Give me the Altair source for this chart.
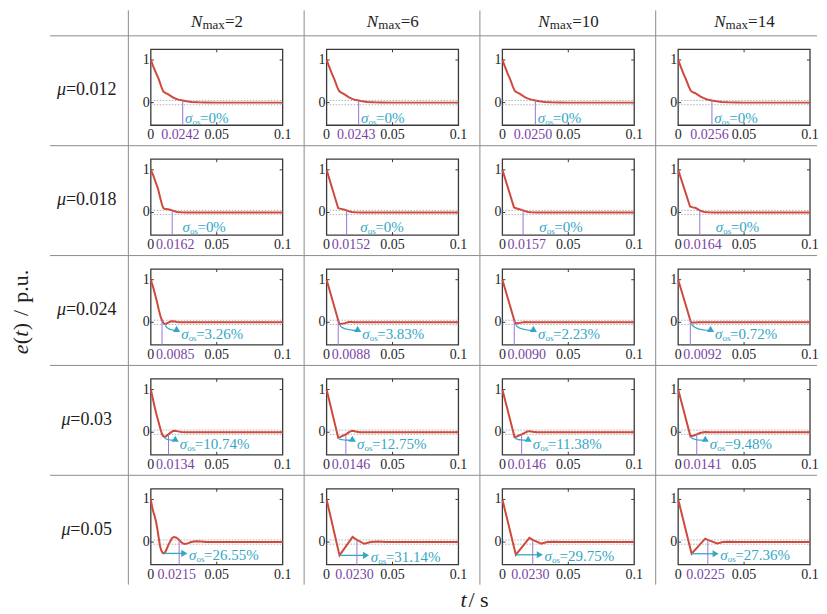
import altair as alt
import numpy as np
import pandas as pd

# ---------------- values ----------------
MU_LABELS = ["0.012", "0.018", "0.024", "0.03", "0.05"]
NMAX_LABELS = ["2", "6", "10", "14"]

TS_LABELS = [
    ["0.0242", "0.0243", "0.0250", "0.0256"],
    ["0.0162", "0.0152", "0.0157", "0.0164"],
    ["0.0085", "0.0088", "0.0090", "0.0092"],
    ["0.0134", "0.0146", "0.0146", "0.0141"],
    ["0.0215", "0.0230", "0.0230", "0.0225"],
]
OS_LABELS = [
    ["0%", "0%", "0%", "0%"],
    ["0%", "0%", "0%", "0%"],
    ["3.26%", "3.83%", "2.23%", "0.72%"],
    ["10.74%", "12.75%", "11.38%", "9.48%"],
    ["26.55%", "31.14%", "29.75%", "27.36%"],
]
# side of the 5 % band the error enters at the settling time
SETTLE_EDGE = [0.05, 0.05, 0.05, -0.05, 0.05]

CURVE_T = [
    [
        [0, 0.002, 0.004, 0.006, 0.008, 0.0095, 0.011, 0.013, 0.015, 0.017, 0.019, 0.021, 0.0242, 0.027, 0.031, 0.036, 0.042, 0.05, 0.1],
        [0, 0.002, 0.004, 0.006, 0.008, 0.0095, 0.011, 0.013, 0.015, 0.017, 0.019, 0.021, 0.0243, 0.027, 0.031, 0.036, 0.042, 0.05, 0.1],
        [0, 0.002, 0.004, 0.006, 0.008, 0.0095, 0.011, 0.013, 0.015, 0.017, 0.019, 0.022, 0.025, 0.028, 0.032, 0.037, 0.043, 0.05, 0.1],
        [0, 0.002, 0.004, 0.006, 0.008, 0.0095, 0.011, 0.013, 0.015, 0.017, 0.019, 0.022, 0.0256, 0.029, 0.033, 0.038, 0.044, 0.05, 0.1],
    ],
    [
        [0, 0.002, 0.004, 0.0055, 0.007, 0.0085, 0.0095, 0.011, 0.013, 0.0145, 0.0162, 0.018, 0.02, 0.023, 0.027, 0.1],
        [0, 0.0088, 0.011, 0.013, 0.0152, 0.017, 0.019, 0.022, 0.026, 0.1],
        [0, 0.0088, 0.011, 0.013, 0.0157, 0.0175, 0.0195, 0.022, 0.026, 0.1],
        [0, 0.009, 0.011, 0.013, 0.0145, 0.0164, 0.018, 0.02, 0.023, 0.027, 0.1],
    ],
    [
        [0, 0.0015, 0.003, 0.0045, 0.006, 0.0075, 0.0085, 0.0095, 0.0105, 0.012, 0.0135, 0.015, 0.0165, 0.018, 0.02, 0.023, 0.027, 0.1],
        [0, 0.0088, 0.0097, 0.011, 0.0125, 0.014, 0.0155, 0.017, 0.0185, 0.021, 0.024, 0.1],
        [0, 0.009, 0.0097, 0.011, 0.013, 0.015, 0.017, 0.019, 0.022, 0.1],
        [0, 0.0092, 0.0098, 0.011, 0.013, 0.016, 0.1],
    ],
    [
        [0, 0.0013, 0.0027, 0.004, 0.0054, 0.0066, 0.0078, 0.009, 0.0102, 0.0115, 0.0134, 0.015, 0.0168, 0.0185, 0.0205, 0.023, 0.027, 0.1],
        [0, 0.0088, 0.0105, 0.0125, 0.0146, 0.0165, 0.018, 0.0198, 0.022, 0.025, 0.1],
        [0, 0.0092, 0.011, 0.0128, 0.0146, 0.0165, 0.0185, 0.0205, 0.023, 0.026, 0.1],
        [0, 0.0093, 0.011, 0.0125, 0.0141, 0.016, 0.018, 0.0205, 0.024, 0.1],
    ],
    [
        [0, 0.001, 0.002, 0.003, 0.004, 0.005, 0.006, 0.007, 0.008, 0.009, 0.0098, 0.0108, 0.012, 0.0134, 0.0148, 0.016, 0.0175, 0.019, 0.0203, 0.0215, 0.023, 0.0245, 0.0258, 0.028, 0.030, 0.0325, 0.035, 0.038, 0.042, 0.05, 0.1],
        [0, 0.0098, 0.0197, 0.023, 0.0285, 0.0335, 0.0386, 0.045, 0.1],
        [0, 0.0102, 0.0205, 0.023, 0.0295, 0.034, 0.039, 0.045, 0.1],
        [0, 0.0102, 0.0205, 0.0225, 0.0295, 0.034, 0.039, 0.045, 0.1],
    ],
]
CURVE_E = [
    [
        [1.0, 0.84, 0.69, 0.55, 0.37, 0.26, 0.23, 0.2, 0.16, 0.12, 0.09, 0.07, 0.05, 0.03, 0.015, 0.006, 0.002, 0.0, 0.0],
        [1.0, 0.84, 0.68, 0.54, 0.37, 0.27, 0.235, 0.205, 0.165, 0.125, 0.095, 0.07, 0.05, 0.03, 0.015, 0.006, 0.002, 0.0, 0.0],
        [1.0, 0.84, 0.68, 0.54, 0.37, 0.27, 0.24, 0.21, 0.17, 0.13, 0.1, 0.07, 0.05, 0.03, 0.016, 0.007, 0.002, 0.0, 0.0],
        [1.0, 0.84, 0.68, 0.54, 0.38, 0.28, 0.245, 0.22, 0.18, 0.14, 0.11, 0.075, 0.05, 0.03, 0.016, 0.007, 0.002, 0.0, 0.0],
    ],
    [
        [1.0, 0.86, 0.68, 0.55, 0.36, 0.18, 0.1, 0.08, 0.075, 0.065, 0.05, 0.03, 0.012, 0.004, 0.0, 0.0],
        [1.0, 0.1, 0.085, 0.07, 0.05, 0.03, 0.012, 0.004, 0.0, 0.0],
        [1.0, 0.12, 0.095, 0.075, 0.05, 0.03, 0.012, 0.004, 0.0, 0.0],
        [1.0, 0.14, 0.12, 0.11, 0.085, 0.05, 0.03, 0.013, 0.004, 0.0, 0.0],
    ],
    [
        [1.0, 0.85, 0.68, 0.5, 0.3, 0.12, 0.05, -0.015, -0.0326, -0.025, 0.0, 0.02, 0.028, 0.022, 0.01, 0.002, 0.0, 0.0],
        [1.0, 0.05, -0.0383, -0.035, -0.028, -0.018, -0.005, 0.006, 0.01, 0.004, 0.0, 0.0],
        [1.0, 0.05, -0.0223, -0.02, -0.012, -0.003, 0.006, 0.005, 0.0, 0.0],
        [1.0, 0.05, -0.0072, -0.006, -0.002, 0.0, 0.0],
    ],
    [
        [1.0, 0.82, 0.62, 0.45, 0.29, 0.15, 0.02, -0.08, -0.1074, -0.095, -0.05, -0.01, 0.03, 0.035, 0.02, 0.006, 0.0, 0.0],
        [1.0, -0.1275, -0.11, -0.08, -0.05, -0.01, 0.02, 0.035, 0.015, 0.0, 0.0],
        [1.0, -0.1138, -0.1, -0.075, -0.05, -0.02, 0.01, 0.025, 0.012, 0.0, 0.0],
        [1.0, -0.0948, -0.085, -0.07, -0.05, -0.025, -0.005, 0.005, 0.0, 0.0],
    ],
    [
        [1.0, 0.82, 0.7, 0.6, 0.47, 0.3, 0.1, -0.1, -0.2, -0.255, -0.2655, -0.24, -0.17, -0.06, 0.02, 0.09, 0.12, 0.11, 0.085, 0.05, 0.0, -0.035, -0.045, -0.03, -0.005, 0.015, 0.02, 0.012, 0.003, 0.0, 0.0],
        [1.0, -0.3114, 0.12, 0.05, -0.04, 0.0, 0.015, 0.0, 0.0],
        [1.0, -0.2975, 0.1, 0.05, -0.035, 0.0, 0.01, 0.0, 0.0],
        [1.0, -0.2736, 0.08, 0.05, -0.03, 0.0, 0.007, 0.0, 0.0],
    ],
]

# ---------------- layout and style ----------------
FONT = "Liberation Serif"
RED = "#cf4a3c"
PURPLE_TXT = "#7b3fa6"
PURPLE_LINE = "#9d72d2"
CYAN = "#35a7c6"
GRID_C = "#8c8c8c"
FRAME_C = "#3a3a3a"
BAND_C = "#a0a0a0"
TXT_C = "#1e1e1e"

LEFT_W = 120          # ylabel + row-label column
TABLE_X0 = 42         # where the horizontal table lines start
CELL_W = [176, 176, 176, 162]
CELL_H = 110
HEAD_H = 27
FOOT_H = 24

FRAME_L = 23          # t = 0 offset inside a cell
PX_X = 1320.0         # pixels per second
FRAME_T, FRAME_B = 14, 90
Y_MAX, Y_MIN = 1.25, -0.53
PX_Y = (FRAME_B - FRAME_T) / (Y_MAX - Y_MIN)
Y_CELL_HI = Y_MAX + FRAME_T / PX_Y
Y_CELL_LO = Y_MIN - (CELL_H - FRAME_B) / PX_Y

TS_LABEL_MIN = 0.0185
TS_LABEL_SHIFT = -0.0018
ANNOT_SIZE = 15
# annotation text anchor (start of "σ") per panel
ANNOT_X = [
    None,
    [0.024, 0.0255, 0.028, 0.0285],
    [0.023, 0.027, 0.027, 0.028],
    [0.022, 0.023, 0.023, 0.024],
    [0.029, 0.0335, 0.032, 0.032],
]
ANNOT_Y = [-0.35, -0.35, -0.28, -0.28, None]

ONE = alt.Data(values=[{"k": 0}])


def hline(x0, x1, y):
    return alt.Chart(ONE).mark_rule(color=GRID_C, strokeWidth=1).encode(
        x=alt.value(x0), x2=alt.value(x1), y=alt.value(y))


def vline(x, y0, y1):
    return alt.Chart(ONE).mark_rule(color=GRID_C, strokeWidth=1).encode(
        x=alt.value(x), y=alt.value(y0), y2=alt.value(y1))


def label(text, x, y, size, italic=False, color=TXT_C, align="left", baseline="alphabetic", angle=0, dx=0):
    kw = dict(text=text, font=FONT, fontSize=size, color=color, align=align,
              baseline=baseline, dx=dx)
    if italic:
        kw["fontStyle"] = "italic"
    if angle:
        kw["angle"] = angle
    return alt.Chart(ONE).mark_text(**kw).encode(x=alt.value(x), y=alt.value(y))


def panel(r, c):
    w = CELL_W[c]
    xs = alt.Scale(domain=[-FRAME_L / PX_X, (w - FRAME_L) / PX_X], nice=False, zero=False)
    ys = alt.Scale(domain=[Y_CELL_LO, Y_CELL_HI], nice=False, zero=False)

    def X(f):
        return alt.X(f, type="quantitative", scale=xs, axis=None)

    def Y(f):
        return alt.Y(f, type="quantitative", scale=ys, axis=None)

    t = CURVE_T[r][c]
    e = CURVE_E[r][c]
    ts = float(TS_LABELS[r][c])
    layers = [hline(0, w, 0.5), vline(0.5, 0, CELL_H)]

    # frame
    fr = pd.DataFrame({"x0": [0.0], "x1": [0.1], "y0": [Y_MIN], "y1": [Y_MAX]})
    layers.append(alt.Chart(fr).mark_rect(filled=False, color=FRAME_C, strokeWidth=1.3).encode(
        x=X("x0"), x2="x1", y=Y("y0"), y2="y1"))
    # frame ticks
    tlx, tly = 3 / PX_X, 3 / PX_Y
    tk = pd.DataFrame({
        "x0": [0.05, 0.05, 0.0, 0.0, 0.1, 0.1],
        "x1": [0.05, 0.05, tlx, tlx, 0.1 - tlx, 0.1 - tlx],
        "y0": [Y_MAX, Y_MIN, 0.0, 1.0, 0.0, 1.0],
        "y1": [Y_MAX - tly, Y_MIN + tly, 0.0, 1.0, 0.0, 1.0],
    })
    layers.append(alt.Chart(tk).mark_rule(color=FRAME_C, strokeWidth=1).encode(
        x=X("x0"), x2="x1", y=Y("y0"), y2="y1"))
    # 5 % band
    band = pd.DataFrame({"x0": [0.0, 0.0], "x1": [0.1, 0.1], "y": [0.05, -0.05]})
    layers.append(alt.Chart(band).mark_rule(color=BAND_C, strokeWidth=0.8, strokeDash=[1.5, 1.5]).encode(
        x=X("x0"), x2="x1", y=Y("y")))
    # curve
    cur = pd.DataFrame({"t": t, "e": e, "i": range(len(t))})
    layers.append(alt.Chart(cur).mark_line(color=RED, strokeWidth=2).encode(
        x=X("t"), y=Y("e"), order="i:Q"))
    # settling-time marker
    st = pd.DataFrame({"t": [ts], "y0": [Y_MIN], "y1": [SETTLE_EDGE[r]]})
    layers.append(alt.Chart(st).mark_rule(color=PURPLE_LINE, strokeWidth=1).encode(
        x=X("t"), y=Y("y0"), y2="y1"))
    # tick labels
    xl = pd.DataFrame({"t": [0.0, 0.05, 0.1], "y": [Y_MIN] * 3, "s": ["0", "0.05", "0.1"]})
    layers.append(alt.Chart(xl).mark_text(font=FONT, fontSize=14, color=TXT_C, baseline="top", dy=3).encode(
        x=X("t"), y=Y("y"), text="s:N"))
    tl = pd.DataFrame({"t": [max(ts + TS_LABEL_SHIFT, TS_LABEL_MIN)], "y": [Y_MIN], "s": [TS_LABELS[r][c]]})
    layers.append(alt.Chart(tl).mark_text(font=FONT, fontSize=14, color=PURPLE_TXT, baseline="top", dy=3).encode(
        x=X("t"), y=Y("y"), text="s:N"))
    yl = pd.DataFrame({"t": [0.0, 0.0], "y": [0.0, 1.0], "s": ["0", "1"]})
    layers.append(alt.Chart(yl).mark_text(font=FONT, fontSize=14, color=TXT_C, align="right",
                                          baseline="middle", dx=-1).encode(
        x=X("t"), y=Y("y"), text="s:N"))

    # overshoot annotation
    imin = int(np.argmin(e))
    tmin, emin = t[imin], e[imin]
    if r == 0:
        ax = ts + 0.0018
    else:
        ax = ANNOT_X[r][c]
    ay = ANNOT_Y[r] if ANNOT_Y[r] is not None else emin - 0.04
    an = pd.DataFrame({"t": [ax], "y": [ay]})
    common = dict(font=FONT, color=CYAN, align="left", baseline="middle")
    layers.append(alt.Chart(an).mark_text(text="σ", fontSize=ANNOT_SIZE, fontStyle="italic", **common).encode(
        x=X("t"), y=Y("y")))
    layers.append(alt.Chart(an).mark_text(text="os", fontSize=9, dx=7.5, dy=4, **common).encode(
        x=X("t"), y=Y("y")))
    layers.append(alt.Chart(an).mark_text(text="=" + OS_LABELS[r][c], fontSize=ANNOT_SIZE, dx=15, **common).encode(
        x=X("t"), y=Y("y")))

    if r in (2, 3):
        t0, e0 = tmin + 0.0005, emin - 0.02
        t1, e1 = ax - 0.0028, ay + 0.09
        th = np.linspace(0, np.pi / 2, 12)
        arr = pd.DataFrame({"t": t0 + (t1 - t0) * (1 - np.cos(th)),
                            "e": e0 - (e0 - e1) * np.sin(th), "i": range(12)})
        layers.append(alt.Chart(arr).mark_line(color=CYAN, strokeWidth=1.3).encode(
            x=X("t"), y=Y("e"), order="i:Q"))
        hd = pd.DataFrame({"t": [t1], "e": [e1]})
        layers.append(alt.Chart(hd).mark_point(shape="triangle-right", filled=True, color=CYAN,
                                               size=50, opacity=1, angle=30).encode(
            x=X("t"), y=Y("e")))
    elif r == 4:
        t1 = ax - 0.0036
        arr = pd.DataFrame({"t": [tmin, t1], "e": [emin, emin], "i": [0, 1]})
        layers.append(alt.Chart(arr).mark_line(color=CYAN, strokeWidth=1.3).encode(
            x=X("t"), y=Y("e"), order="i:Q"))
        hd = pd.DataFrame({"t": [t1], "e": [emin]})
        layers.append(alt.Chart(hd).mark_point(shape="triangle-right", filled=True, color=CYAN,
                                               size=50, opacity=1).encode(
            x=X("t"), y=Y("e")))

    return alt.layer(*layers).properties(width=w, height=CELL_H)


def row_label_cell(r):
    layers = [hline(TABLE_X0, LEFT_W, 0.5)]
    digits = len(MU_LABELS[r]) - 1
    start = 78.5 - (9 + 9.6 + 9 * digits + 4.5) / 2
    layers.append(label("μ", start, 60, 18, italic=True))
    layers.append(label("=" + MU_LABELS[r], start + 9, 60, 18))
    if r == 2:
        # rotated axis label e(t) / p.u.
        cx, cy = 13, 57
        pieces = [("e", True, 0.0), ("(", False, 10.0), ("t", True, 17.5), (")", False, 24.0),
                  ("/", False, 38.3), ("p.u.", False, 51.4)]
        total = 84.4
        for txt, it, off in pieces:
            layers.append(label(txt, cx, cy, 22, italic=it, baseline="middle", angle=270,
                                dx=-total / 2 + off))
    return alt.layer(*layers).properties(width=LEFT_W, height=CELL_H)


def header_cell(c):
    n = NMAX_LABELS[c]
    total = 34 + 15.5 + 8.5 * (len(n) - 1)
    start = 88 - total / 2
    layers = [vline(0.5, 2, HEAD_H),
              label("N", start, 18.7, 17, italic=True),
              label("max", start + 11.5, 20.5, 13),
              label("=" + n, start + 34, 18.7, 17)]
    return alt.layer(*layers).properties(width=CELL_W[c], height=HEAD_H)


def empty_cell(w, h):
    return alt.Chart(ONE).mark_rule(opacity=0).encode(
        x=alt.value(1), y=alt.value(1), y2=alt.value(2)).properties(width=w, height=h)


def footer_cell(c):
    w = LEFT_W if c < 0 else CELL_W[c]
    if c != 1:
        return empty_cell(w, FOOT_H)
    # centre of "t / s" sits at the right end of the second panel column
    cx = 174
    return alt.layer(
        label("t", cx - 17, 22, 22, italic=True),
        label(" / s", cx - 9, 22, 22),
    ).properties(width=w, height=FOOT_H)


cells = [empty_cell(LEFT_W, HEAD_H)] + [header_cell(c) for c in range(4)]
for r in range(5):
    cells += [row_label_cell(r)] + [panel(r, c) for c in range(4)]
cells += [footer_cell(-1)] + [footer_cell(c) for c in range(4)]

chart = alt.concat(*cells, columns=5, spacing=0, bounds="flush", align="each").properties(
    padding=0
).configure_view(stroke=None).configure_concat(spacing=0)

chart.save("out.html", embed_options={"renderer": "svg", "actions": False})
